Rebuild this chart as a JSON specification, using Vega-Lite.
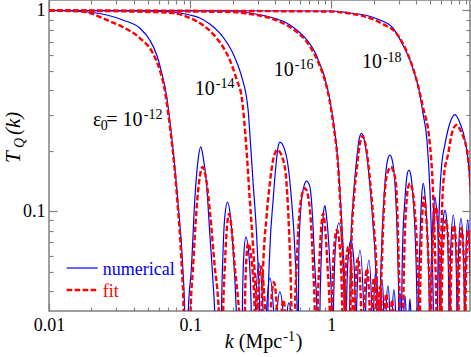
{
"$schema":"https://vega.github.io/schema/vega-lite/v6.json",
"width":421,"height":311,
"autosize":{"type":"none"},
"padding":{"left":49,"top":0,"right":1,"bottom":46},
"background":"white",
"config":{"view":{"stroke":"#808080","strokeWidth":1.5},
 "axis":{"grid":false,"domain":false,"tickColor":"#808080","tickWidth":1.2,"labelFont":"Liberation Serif","labelFontSize":18,"labelColor":"#000","labelFlush":false,"labelOverlap":false}},
"datasets":{
"num":[
{"c":"12","k":0.01,"T":1.0},{"c":"12","k":0.01472,"T":0.994},{"c":"12","k":0.02564,"T":0.95},{"c":"12","k":0.03329,"T":0.897},{"c":"12","k":0.04393,"T":0.818},{"c":"12","k":0.05172,"T":0.713},{"c":"12","k":0.05799,"T":0.6},{"c":"12","k":0.0629,"T":0.488},{"c":"12","k":0.06825,"T":0.371},{"c":"12","k":0.07167,"T":0.285},{"c":"12","k":0.08168,"T":0.1136},{"c":"12","k":0.08863,"T":0.0527},{"c":"12","k":0.09157,"T":0.03},{"c":"12","k":0.09232,"T":0.01},
{"c":"12","k":0.09538,"T":0.01},{"c":"12","k":0.09664,"T":0.03},{"c":"12","k":0.10214,"T":0.0528},{"c":"12","k":0.1078,"T":0.1136},{"c":"12","k":0.11378,"T":0.18},{"c":"12","k":0.1189,"T":0.209},{"c":"12","k":0.12344,"T":0.187},{"c":"12","k":0.13049,"T":0.138},{"c":"12","k":0.13771,"T":0.0775},{"c":"12","k":0.14533,"T":0.0437},{"c":"12","k":0.14943,"T":0.03},{"c":"12","k":0.15064,"T":0.01},
{"c":"12","k":0.16479,"T":0.01},{"c":"12","k":0.16668,"T":0.03},{"c":"12","k":0.17108,"T":0.064},{"c":"12","k":0.17591,"T":0.0938},{"c":"12","k":0.18382,"T":0.111},{"c":"12","k":0.19306,"T":0.0938},{"c":"12","k":0.20143,"T":0.064},{"c":"12","k":0.21051,"T":0.0361},{"c":"12","k":0.21247,"T":0.03},{"c":"12","k":0.21433,"T":0.01},
{"c":"12","k":0.23217,"T":0.01},{"c":"12","k":0.23406,"T":0.03},{"c":"12","k":0.23947,"T":0.059},{"c":"12","k":0.24783,"T":0.0743},{"c":"12","k":0.26157,"T":0.059},{"c":"12","k":0.27111,"T":0.03},{"c":"12","k":0.27333,"T":0.01},
{"c":"12","k":0.28706,"T":0.01},{"c":"12","k":0.28939,"T":0.03},{"c":"12","k":0.30643,"T":0.0551},{"c":"12","k":0.32977,"T":0.03},{"c":"12","k":0.33248,"T":0.01},
{"c":"12","k":0.34351,"T":0.01},{"c":"12","k":0.34628,"T":0.03},{"c":"12","k":0.36668,"T":0.0464},{"c":"12","k":0.39143,"T":0.03},{"c":"12","k":0.39462,"T":0.01},
{"c":"12","k":0.40767,"T":0.01},{"c":"12","k":0.41108,"T":0.03},{"c":"12","k":0.43169,"T":0.0396},{"c":"12","k":0.45707,"T":0.03},{"c":"12","k":0.46083,"T":0.01},
{"c":"12","k":0.47995,"T":0.01},{"c":"12","k":0.48397,"T":0.03},{"c":"12","k":0.50003,"T":0.0349},{"c":"12","k":0.52083,"T":0.03},{"c":"12","k":0.5251,"T":0.01},
{"c":"14","k":0.01,"T":1.0},{"c":"14","k":0.05172,"T":0.9942},{"c":"14","k":0.07775,"T":0.977},{"c":"14","k":0.09935,"T":0.95},{"c":"14","k":0.11697,"T":0.918},{"c":"14","k":0.13771,"T":0.856},{"c":"14","k":0.16212,"T":0.772},{"c":"14","k":0.18474,"T":0.681},{"c":"14","k":0.20045,"T":0.614},{"c":"14","k":0.2175,"T":0.535},{"c":"14","k":0.23217,"T":0.466},{"c":"14","k":0.25734,"T":0.319},{"c":"14","k":0.26455,"T":0.245},{"c":"14","k":0.27918,"T":0.138},{"c":"14","k":0.29513,"T":0.0778},{"c":"14","k":0.30296,"T":0.0527},{"c":"14","k":0.31146,"T":0.03},{"c":"14","k":0.31401,"T":0.01},
{"c":"14","k":0.35201,"T":0.01},{"c":"14","k":0.35491,"T":0.03},{"c":"14","k":0.36668,"T":0.064},{"c":"14","k":0.38696,"T":0.1136},{"c":"14","k":0.40441,"T":0.167},{"c":"14","k":0.41783,"T":0.205},{"c":"14","k":0.43169,"T":0.221},{"c":"14","k":0.46459,"T":0.205},{"c":"14","k":0.49436,"T":0.167},{"c":"14","k":0.5225,"T":0.1136},{"c":"14","k":0.55148,"T":0.064},{"c":"14","k":0.57344,"T":0.03},{"c":"14","k":0.57725,"T":0.01},
{"c":"14","k":0.5801,"T":0.01},{"c":"14","k":0.58381,"T":0.03},{"c":"14","k":0.58868,"T":0.064},{"c":"14","k":0.61515,"T":0.1136},{"c":"14","k":0.63873,"T":0.1324},{"c":"14","k":0.66751,"T":0.141},{"c":"14","k":0.70443,"T":0.1324},{"c":"14","k":0.73613,"T":0.0938},{"c":"14","k":0.76438,"T":0.0527},{"c":"14","k":0.78586,"T":0.0361},{"c":"14","k":0.7922,"T":0.03},{"c":"14","k":0.79749,"T":0.01},
{"c":"14","k":0.82257,"T":0.01},{"c":"14","k":0.82932,"T":0.03},{"c":"14","k":0.85262,"T":0.064},{"c":"14","k":0.87518,"T":0.0938},{"c":"14","k":0.8999,"T":0.1065},{"c":"14","k":0.92519,"T":0.0938},{"c":"14","k":0.96503,"T":0.064},{"c":"14","k":1.0038,"T":0.0361},{"c":"14","k":1.0121,"T":0.03},{"c":"14","k":1.01864,"T":0.01},
{"c":"14","k":1.02537,"T":0.01},{"c":"14","k":1.03377,"T":0.03},{"c":"14","k":1.07156,"T":0.068},{"c":"14","k":1.13092,"T":0.0873},{"c":"14","k":1.19338,"T":0.068},{"c":"14","k":1.23706,"T":0.03},{"c":"14","k":1.24729,"T":0.01},
{"c":"14","k":1.26775,"T":0.01},{"c":"14","k":1.27796,"T":0.03},{"c":"14","k":1.31637,"T":0.0589},{"c":"14","k":1.3756,"T":0.0718},{"c":"14","k":1.43745,"T":0.0589},{"c":"14","k":1.48033,"T":0.03},{"c":"14","k":1.49252,"T":0.01},
{"c":"14","k":1.50458,"T":0.03},{"c":"14","k":1.5932,"T":0.064},{"c":"14","k":1.70074,"T":0.03},{"c":"14","k":1.7146,"T":0.01},
{"c":"14","k":1.72878,"T":0.01},{"c":"14","k":1.7428,"T":0.03},{"c":"14","k":1.8454,"T":0.0571},{"c":"14","k":1.93795,"T":0.03},{"c":"14","k":1.95369,"T":0.01},
{"c":"14","k":1.96984,"T":0.01},{"c":"14","k":1.98597,"T":0.03},{"c":"14","k":2.06869,"T":0.0509},{"c":"14","k":2.15459,"T":0.03},{"c":"14","k":2.17262,"T":0.01},
{"c":"14","k":2.19025,"T":0.01},{"c":"14","k":2.20824,"T":0.03},{"c":"14","k":2.28155,"T":0.0459},{"c":"14","k":2.3573,"T":0.03},{"c":"14","k":2.37651,"T":0.01},
{"c":"14","k":2.41561,"T":0.01},{"c":"14","k":2.43547,"T":0.03},{"c":"14","k":2.51629,"T":0.0424},{"c":"14","k":2.59976,"T":0.03},{"c":"14","k":2.62108,"T":0.01},
{"c":"14","k":2.67282,"T":0.01},{"c":"14","k":2.69491,"T":0.03},{"c":"14","k":2.77524,"T":0.0405},{"c":"14","k":2.85792,"T":0.03},{"c":"14","k":2.88107,"T":0.01},
{"c":"14","k":2.96243,"T":0.01},{"c":"14","k":2.98639,"T":0.03},{"c":"14","k":3.0607,"T":0.0391},{"c":"14","k":3.13661,"T":0.03},{"c":"14","k":3.16232,"T":0.01},
{"c":"14","k":3.22996,"T":0.01},{"c":"14","k":3.25658,"T":0.03},{"c":"14","k":3.32117,"T":0.0378},{"c":"14","k":3.38636,"T":0.03},{"c":"14","k":3.41452,"T":0.01},
{"c":"14","k":3.51583,"T":0.01},{"c":"14","k":3.54521,"T":0.03},{"c":"14","k":3.60336,"T":0.0366},{"c":"14","k":3.66282,"T":0.03},{"c":"14","k":3.69272,"T":0.01},
{"c":"16","k":0.01,"T":1.0},{"c":"16","k":0.19087,"T":0.9942},{"c":"16","k":0.26455,"T":0.9716},{"c":"16","k":0.36668,"T":0.928},{"c":"16","k":0.46843,"T":0.876},{"c":"16","k":0.56978,"T":0.7993},{"c":"16","k":0.6708,"T":0.713},{"c":"16","k":0.76438,"T":0.621},{"c":"16","k":0.82932,"T":0.5414},{"c":"16","k":0.8999,"T":0.461},{"c":"16","k":0.97636,"T":0.358},{"c":"16","k":1.04227,"T":0.269},{"c":"16","k":1.11257,"T":0.18},{"c":"16","k":1.18763,"T":0.0853},{"c":"16","k":1.23706,"T":0.048},{"c":"16","k":1.27796,"T":0.03},{"c":"16","k":1.28866,"T":0.01},
{"c":"16","k":1.33798,"T":0.01},{"c":"16","k":1.34672,"T":0.03},{"c":"16","k":1.35327,"T":0.039},{"c":"16","k":1.3756,"T":0.0692},{"c":"16","k":1.4281,"T":0.1136},{"c":"16","k":1.50971,"T":0.18},{"c":"16","k":1.5725,"T":0.228},{"c":"16","k":1.63799,"T":0.2443},{"c":"16","k":1.70632,"T":0.228},{"c":"16","k":1.77737,"T":0.1942},{"c":"16","k":1.89708,"T":0.1227},{"c":"16","k":1.97938,"T":0.0836},{"c":"16","k":2.06869,"T":0.0471},{"c":"16","k":2.0957,"T":0.03},{"c":"16","k":2.10939,"T":0.01},
{"c":"16","k":2.1938,"T":0.01},{"c":"16","k":2.20824,"T":0.03},{"c":"16","k":2.27029,"T":0.064},{"c":"16","k":2.39622,"T":0.1376},{"c":"16","k":2.49575,"T":0.178},{"c":"16","k":2.59976,"T":0.19},{"c":"16","k":2.70791,"T":0.178},{"c":"16","k":2.82098,"T":0.1376},{"c":"16","k":2.94787,"T":0.064},{"c":"16","k":3.0113,"T":0.03},{"c":"16","k":3.0308,"T":0.01},
{"c":"16","k":3.1262,"T":0.01},{"c":"16","k":3.14671,"T":0.03},{"c":"16","k":3.20364,"T":0.07},{"c":"16","k":3.32117,"T":0.1136},{"c":"16","k":3.43136,"T":0.15},{"c":"16","k":3.54521,"T":0.16},{"c":"16","k":3.66282,"T":0.15},{"c":"16","k":3.80263,"T":0.1136},{"c":"16","k":3.94172,"T":0.07},{"c":"16","k":4.05234,"T":0.03},{"c":"16","k":4.07937,"T":0.01},
{"c":"16","k":4.11288,"T":0.01},{"c":"16","k":4.13918,"T":0.03},{"c":"16","k":4.24224,"T":0.07},{"c":"16","k":4.35466,"T":0.115},{"c":"16","k":4.47684,"T":0.1376},{"c":"16","k":4.6181,"T":0.118},{"c":"16","k":4.81028,"T":0.07},{"c":"16","k":4.95367,"T":0.03},{"c":"16","k":4.98633,"T":0.01},
{"c":"16","k":5.01069,"T":0.01},{"c":"16","k":5.04357,"T":0.03},{"c":"16","k":5.16021,"T":0.07},{"c":"16","k":5.28807,"T":0.1},{"c":"16","k":5.41941,"T":0.118},{"c":"16","k":5.57174,"T":0.1},{"c":"16","k":5.71952,"T":0.07},{"c":"16","k":5.86092,"T":0.03},{"c":"16","k":5.88948,"T":0.01},
{"c":"16","k":5.92811,"T":0.03},{"c":"16","k":6.05511,"T":0.065},{"c":"16","k":6.20504,"T":0.09},{"c":"16","k":6.38027,"T":0.1013},{"c":"16","k":6.5696,"T":0.09},{"c":"16","k":6.70013,"T":0.065},{"c":"16","k":6.81058,"T":0.03},{"c":"16","k":6.83714,"T":0.01},
{"c":"16","k":6.866,"T":0.03},{"c":"16","k":7.01308,"T":0.065},{"c":"16","k":7.3052,"T":0.0957},{"c":"16","k":7.60977,"T":0.065},{"c":"16","k":7.76069,"T":0.03},{"c":"16","k":7.79252,"T":0.01},
{"c":"16","k":7.82369,"T":0.03},{"c":"16","k":7.97806,"T":0.065},{"c":"16","k":8.2842,"T":0.0921},{"c":"16","k":8.60041,"T":0.065},{"c":"16","k":8.77074,"T":0.03},{"c":"16","k":8.8066,"T":0.01},
{"c":"16","k":8.84327,"T":0.03},{"c":"16","k":9.00301,"T":0.065},{"c":"16","k":9.24098,"T":0.0903},{"c":"16","k":9.51644,"T":0.065},{"c":"16","k":9.7531,"T":0.03},{"c":"16","k":9.80001,"T":0.01},
{"c":"18","k":0.01,"T":1.0},{"c":"18","k":0.97636,"T":0.9942},{"c":"18","k":1.35327,"T":0.9716},{"c":"18","k":1.78614,"T":0.944},{"c":"18","k":2.20824,"T":0.897},{"c":"18","k":2.7303,"T":0.818},{"c":"18","k":3.21435,"T":0.673},{"c":"18","k":3.60336,"T":0.5666},{"c":"18","k":3.91001,"T":0.477},{"c":"18","k":4.17374,"T":0.402},{"c":"18","k":4.4552,"T":0.308},{"c":"18","k":4.75598,"T":0.226},{"c":"18","k":4.99439,"T":0.1274},{"c":"18","k":5.16021,"T":0.064},{"c":"18","k":5.28807,"T":0.03},{"c":"18","k":5.33146,"T":0.01},
{"c":"18","k":5.59918,"T":0.01},{"c":"18","k":5.64465,"T":0.03},{"c":"18","k":5.785,"T":0.09},{"c":"18","k":6.02571,"T":0.165},{"c":"18","k":6.38027,"T":0.215},{"c":"18","k":6.92239,"T":0.275},{"c":"18","k":7.51148,"T":0.303},{"c":"18","k":8.14973,"T":0.275},{"c":"18","k":8.84327,"T":0.226},{"c":"18","k":9.59468,"T":0.14},{"c":"18","k":10.0764,"T":0.05},{"c":"18","k":10.582,"T":0.01}
],
"fit":[
{"c":"12","k":0.01,"T":1.0},{"c":"12","k":0.01472,"T":0.994},{"c":"12","k":0.01943,"T":0.9716},{"c":"12","k":0.02564,"T":0.897},{"c":"12","k":0.03329,"T":0.8274},{"c":"12","k":0.04393,"T":0.7293},{"c":"12","k":0.0543,"T":0.614},{"c":"12","k":0.06089,"T":0.505},{"c":"12","k":0.06607,"T":0.402},{"c":"12","k":0.06938,"T":0.319},{"c":"12","k":0.08102,"T":0.1136},{"c":"12","k":0.08719,"T":0.0527},{"c":"12","k":0.09009,"T":0.03},{"c":"12","k":0.09082,"T":0.01},
{"c":"12","k":0.09935,"T":0.01},{"c":"12","k":0.10049,"T":0.03},{"c":"12","k":0.10484,"T":0.0527},{"c":"12","k":0.11084,"T":0.1013},{"c":"12","k":0.11697,"T":0.1485},{"c":"12","k":0.12222,"T":0.166},{"c":"12","k":0.129,"T":0.1485},{"c":"12","k":0.13771,"T":0.1013},{"c":"12","k":0.14943,"T":0.0527},{"c":"12","k":0.15771,"T":0.0361},{"c":"12","k":0.16002,"T":0.03},{"c":"12","k":0.16134,"T":0.01},
{"c":"12","k":0.16969,"T":0.01},{"c":"12","k":0.17108,"T":0.03},{"c":"12","k":0.17591,"T":0.0527},{"c":"12","k":0.18086,"T":0.0775},{"c":"12","k":0.18871,"T":0.0968},{"c":"12","k":0.19816,"T":0.0775},{"c":"12","k":0.20711,"T":0.0527},{"c":"12","k":0.21858,"T":0.0361},{"c":"12","k":0.22288,"T":0.03},{"c":"12","k":0.22471,"T":0.01},
{"c":"12","k":0.24183,"T":0.01},{"c":"12","k":0.24383,"T":0.03},{"c":"12","k":0.24943,"T":0.0554},{"c":"12","k":0.25734,"T":0.0693},{"c":"12","k":0.27333,"T":0.0554},{"c":"12","k":0.28706,"T":0.03},{"c":"12","k":0.28939,"T":0.01},
{"c":"12","k":0.29659,"T":0.01},{"c":"12","k":0.29899,"T":0.03},{"c":"12","k":0.3166,"T":0.053},{"c":"12","k":0.34071,"T":0.03},{"c":"12","k":0.34351,"T":0.01},
{"c":"12","k":0.36668,"T":0.01},{"c":"12","k":0.36969,"T":0.03},{"c":"12","k":0.39143,"T":0.0442},{"c":"12","k":0.41442,"T":0.03},{"c":"12","k":0.41783,"T":0.01},
{"c":"12","k":0.43881,"T":0.01},{"c":"12","k":0.4424,"T":0.03},{"c":"12","k":0.45707,"T":0.0361},{"c":"12","k":0.47223,"T":0.03},{"c":"12","k":0.47612,"T":0.01},
{"c":"14","k":0.01,"T":1.0},{"c":"14","k":0.05172,"T":0.983},{"c":"14","k":0.07524,"T":0.9716},{"c":"14","k":0.09935,"T":0.918},{"c":"14","k":0.12284,"T":0.8467},{"c":"14","k":0.14943,"T":0.7462},{"c":"14","k":0.17591,"T":0.636},{"c":"14","k":0.19087,"T":0.5666},{"c":"14","k":0.21398,"T":0.45},{"c":"14","k":0.23217,"T":0.3664},{"c":"14","k":0.25069,"T":0.202},{"c":"14","k":0.26455,"T":0.1136},{"c":"14","k":0.27918,"T":0.0665},{"c":"14","k":0.29034,"T":0.042},{"c":"14","k":0.29899,"T":0.03},{"c":"14","k":0.30145,"T":0.01},
{"c":"14","k":0.31763,"T":0.01},{"c":"14","k":0.32021,"T":0.03},{"c":"14","k":0.32868,"T":0.0527},{"c":"14","k":0.34747,"T":0.0938},{"c":"14","k":0.36668,"T":0.1376},{"c":"14","k":0.38696,"T":0.18},{"c":"14","k":0.4131,"T":0.202},{"c":"14","k":0.45556,"T":0.18},{"c":"14","k":0.4816,"T":0.1376},{"c":"14","k":0.50248,"T":0.0775},{"c":"14","k":0.5166,"T":0.0437},{"c":"14","k":0.52164,"T":0.03},{"c":"14","k":0.5251,"T":0.01},
{"c":"14","k":0.54782,"T":0.01},{"c":"14","k":0.55148,"T":0.03},{"c":"14","k":0.56699,"T":0.0527},{"c":"14","k":0.59157,"T":0.0938},{"c":"14","k":0.61515,"T":0.118},{"c":"14","k":0.64926,"T":0.13},{"c":"14","k":0.68522,"T":0.118},{"c":"14","k":0.71258,"T":0.0938},{"c":"14","k":0.74339,"T":0.0527},{"c":"14","k":0.76438,"T":0.03},{"c":"14","k":0.76931,"T":0.01},
{"c":"14","k":0.79361,"T":0.01},{"c":"14","k":0.79875,"T":0.03},{"c":"14","k":0.81996,"T":0.0527},{"c":"14","k":0.843,"T":0.0775},{"c":"14","k":0.87518,"T":0.0975},{"c":"14","k":0.91018,"T":0.0775},{"c":"14","k":0.94036,"T":0.0527},{"c":"14","k":0.97636,"T":0.03},{"c":"14","k":0.98271,"T":0.01},
{"c":"14","k":1.00058,"T":0.01},{"c":"14","k":1.00878,"T":0.03},{"c":"14","k":1.04227,"T":0.0628},{"c":"14","k":1.0946,"T":0.0805},{"c":"14","k":1.1551,"T":0.0628},{"c":"14","k":1.19729,"T":0.03},{"c":"14","k":1.20717,"T":0.01},
{"c":"14","k":1.22706,"T":0.01},{"c":"14","k":1.23706,"T":0.03},{"c":"14","k":1.26982,"T":0.0544},{"c":"14","k":1.3204,"T":0.0663},{"c":"14","k":1.38006,"T":0.0544},{"c":"14","k":1.42121,"T":0.03},{"c":"14","k":1.43284,"T":0.01},
{"c":"14","k":1.44462,"T":0.01},{"c":"14","k":1.45639,"T":0.03},{"c":"14","k":1.54205,"T":0.0582},{"c":"14","k":1.63271,"T":0.03},{"c":"14","k":1.6461,"T":0.01},
{"c":"14","k":1.68688,"T":0.01},{"c":"14","k":1.70074,"T":0.03},{"c":"14","k":1.78614,"T":0.0519},{"c":"14","k":1.87568,"T":0.03},{"c":"14","k":1.89106,"T":0.01},
{"c":"14","k":1.9222,"T":0.01},{"c":"14","k":1.93795,"T":0.03},{"c":"14","k":2.00229,"T":0.0464},{"c":"14","k":2.08537,"T":0.03},{"c":"14","k":2.10283,"T":0.01},
{"c":"14","k":2.13734,"T":0.01},{"c":"14","k":2.15459,"T":0.03},{"c":"14","k":2.21905,"T":0.0419},{"c":"14","k":2.28155,"T":0.03},{"c":"14","k":2.3001,"T":0.01},
{"c":"14","k":2.36878,"T":0.01},{"c":"14","k":2.38843,"T":0.03},{"c":"14","k":2.44719,"T":0.0387},{"c":"14","k":2.50812,"T":0.03},{"c":"14","k":2.52888,"T":0.01},
{"c":"14","k":2.62108,"T":0.01},{"c":"14","k":2.64267,"T":0.03},{"c":"14","k":2.69491,"T":0.0361},{"c":"14","k":2.74795,"T":0.03},{"c":"14","k":2.77057,"T":0.01},
{"c":"16","k":0.01,"T":1.0},{"c":"16","k":0.19087,"T":0.983},{"c":"16","k":0.26455,"T":0.9605},{"c":"16","k":0.36668,"T":0.918},{"c":"16","k":0.46843,"T":0.856},{"c":"16","k":0.56978,"T":0.781},{"c":"16","k":0.6708,"T":0.697},{"c":"16","k":0.76438,"T":0.6},{"c":"16","k":0.82932,"T":0.529},{"c":"16","k":0.8999,"T":0.45},{"c":"16","k":0.97636,"T":0.35},{"c":"16","k":1.04227,"T":0.2597},{"c":"16","k":1.11257,"T":0.1738},{"c":"16","k":1.17796,"T":0.0853},{"c":"16","k":1.22706,"T":0.0464},{"c":"16","k":1.26775,"T":0.03},{"c":"16","k":1.27796,"T":0.01},
{"c":"16","k":1.35771,"T":0.01},{"c":"16","k":1.36654,"T":0.03},{"c":"16","k":1.38914,"T":0.0692},{"c":"16","k":1.44215,"T":0.1136},{"c":"16","k":1.5247,"T":0.17},{"c":"16","k":1.58806,"T":0.215},{"c":"16","k":1.66489,"T":0.237},{"c":"16","k":1.73436,"T":0.22},{"c":"16","k":1.80365,"T":0.186},{"c":"16","k":1.91582,"T":0.1227},{"c":"16","k":2.00229,"T":0.0836},{"c":"16","k":2.09253,"T":0.0471},{"c":"16","k":2.12349,"T":0.03},{"c":"16","k":2.13734,"T":0.01},
{"c":"16","k":2.21905,"T":0.01},{"c":"16","k":2.23362,"T":0.03},{"c":"16","k":2.29637,"T":0.064},{"c":"16","k":2.42356,"T":0.1376},{"c":"16","k":2.53665,"T":0.16},{"c":"16","k":2.64267,"T":0.166},{"c":"16","k":2.75264,"T":0.158},{"c":"16","k":2.86728,"T":0.1376},{"c":"16","k":2.98639,"T":0.064},{"c":"16","k":3.05082,"T":0.03},{"c":"16","k":3.07071,"T":0.01},
{"c":"16","k":3.20915,"T":0.01},{"c":"16","k":3.22996,"T":0.03},{"c":"16","k":3.29391,"T":0.065},{"c":"16","k":3.3919,"T":0.105},{"c":"16","k":3.48767,"T":0.13},{"c":"16","k":3.60336,"T":0.1376},{"c":"16","k":3.73524,"T":0.13},{"c":"16","k":3.87794,"T":0.105},{"c":"16","k":4.03973,"T":0.065},{"c":"16","k":4.16008,"T":0.03},{"c":"16","k":4.1871,"T":0.01},
{"c":"16","k":4.21449,"T":0.01},{"c":"16","k":4.24224,"T":0.03},{"c":"16","k":4.32624,"T":0.065},{"c":"16","k":4.41867,"T":0.1},{"c":"16","k":4.52859,"T":0.1176},{"c":"16","k":4.66349,"T":0.1},{"c":"16","k":4.83403,"T":0.065},{"c":"16","k":5.01069,"T":0.03},{"c":"16","k":5.03534,"T":0.01},
{"c":"16","k":5.05982,"T":0.01},{"c":"16","k":5.09316,"T":0.03},{"c":"16","k":5.21069,"T":0.065},{"c":"16","k":5.34899,"T":0.092},{"c":"16","k":5.50836,"T":0.1049},{"c":"16","k":5.67266,"T":0.092},{"c":"16","k":5.82242,"T":0.065},{"c":"16","k":5.95691,"T":0.03},{"c":"16","k":5.98577,"T":0.01},
{"c":"16","k":6.03573,"T":0.03},{"c":"16","k":6.1648,"T":0.062},{"c":"16","k":6.48503,"T":0.0903},{"c":"16","k":6.78823,"T":0.062},{"c":"16","k":6.92239,"T":0.03},{"c":"16","k":6.95069,"T":0.01},
{"c":"16","k":6.97915,"T":0.03},{"c":"16","k":7.12868,"T":0.06},{"c":"16","k":7.38965,"T":0.0853},{"c":"16","k":7.70946,"T":0.06},{"c":"16","k":7.88806,"T":0.03},{"c":"16","k":7.92001,"T":0.01},
{"c":"16","k":7.95183,"T":0.03},{"c":"16","k":8.09643,"T":0.058},{"c":"16","k":8.35184,"T":0.0824},{"c":"16","k":8.67131,"T":0.058},{"c":"16","k":8.84327,"T":0.03},{"c":"16","k":8.87832,"T":0.01},
{"c":"16","k":8.91492,"T":0.03},{"c":"16","k":9.06087,"T":0.058},{"c":"16","k":9.28662,"T":0.0805},{"c":"16","k":9.626,"T":0.058},{"c":"16","k":9.83263,"T":0.03},{"c":"16","k":9.8806,"T":0.01},
{"c":"18","k":0.01,"T":1.0},{"c":"18","k":0.97636,"T":0.9885},{"c":"18","k":1.35327,"T":0.966},{"c":"18","k":1.78614,"T":0.928},{"c":"18","k":2.3191,"T":0.856},{"c":"18","k":2.91457,"T":0.7637},{"c":"18","k":3.43136,"T":0.621},{"c":"18","k":3.78425,"T":0.517},{"c":"18","k":4.10603,"T":0.4253},{"c":"18","k":4.4552,"T":0.33},{"c":"18","k":4.95367,"T":0.226},{"c":"18","k":5.24511,"T":0.1274},{"c":"18","k":5.41941,"T":0.064},{"c":"18","k":5.55274,"T":0.03},{"c":"18","k":5.59918,"T":0.01},
{"c":"18","k":5.83199,"T":0.01},{"c":"18","k":5.87989,"T":0.03},{"c":"18","k":6.02571,"T":0.08},{"c":"18","k":6.27679,"T":0.15},{"c":"18","k":6.73364,"T":0.194},{"c":"18","k":7.15221,"T":0.245},{"c":"18","k":7.72262,"T":0.269},{"c":"18","k":8.2842,"T":0.25},{"c":"18","k":8.60041,"T":0.235},{"c":"18","k":9.33294,"T":0.18},{"c":"18","k":9.7531,"T":0.12},{"c":"18","k":10.2424,"T":0.05},{"c":"18","k":10.7566,"T":0.01}
],
"lab20":[
{"t":"10","k":0.1078,"T":0.3793},{"t":"10","k":0.39143,"T":0.4718},{"t":"10","k":1.6461,"T":0.514},
{"t":"ε","k":0.0205,"T":0.2657},{"t":"= 10","k":0.02543,"T":0.2657},
{"t":"(Mpc","k":0.22109,"T":0.0208},{"t":")","k":0.56053,"T":0.0208}
],
"lab14":[
{"t":"-14","k":0.15188,"T":0.4109},{"t":"-16","k":0.55148,"T":0.511},{"t":"-18","k":2.3191,"T":0.5569},
{"t":"-12","k":0.0469,"T":0.2879},{"t":"0","k":0.02325,"T":0.2537},{"t":"-1","k":0.45707,"T":0.02254}
]
},
"layer":[
{"data":{"name":"num"},
 "mark":{"type":"line","color":"#0000ff","strokeWidth":1.2,"interpolate":"monotone","clip":true},
 "encoding":{
  "x":{"field":"k","type":"quantitative","scale":{"type":"log","domain":[0.01,9.6],"nice":false},
       "axis":{"orient":"bottom","values":[0.01,0.1,1],"format":"~g","tickSize":-8,"labelPadding":13,"title":null}},
  "y":{"field":"T","type":"quantitative","scale":{"type":"log","domain":[0.0318,1.128],"nice":false},
       "axis":{"orient":"left","values":[0.1,1],"format":"~g","tickSize":-8,"labelPadding":12,"title":null}},
  "detail":{"field":"c"}}},
{"data":{"name":"fit"},
 "mark":{"type":"line","color":"#ff0000","strokeWidth":2.4,"strokeDash":[5.5,2.5],"interpolate":"monotone","clip":true},
 "encoding":{
  "x":{"field":"k","type":"quantitative","scale":{"type":"log","domain":[0.01,9.6],"nice":false},
       "axis":{"orient":"bottom","values":[0.02,0.03,0.04,0.05,0.06,0.07,0.08,0.09,0.2,0.3,0.4,0.5,0.6,0.7,0.8,0.9,2,3,4,5,6,7,8,9],"labels":false,"tickSize":-4,"title":null}},
  "y":{"field":"T","type":"quantitative","scale":{"type":"log","domain":[0.0318,1.128],"nice":false},
       "axis":{"orient":"left","values":[0.04,0.05,0.06,0.07,0.08,0.09,0.2,0.3,0.4,0.5,0.6,0.7,0.8,0.9],"labels":false,"tickSize":-4,"title":null}},
  "detail":{"field":"c"}}},
{"data":{"name":"lab20"},
 "mark":{"type":"text","font":"Liberation Serif","fontSize":20,"align":"left","baseline":"alphabetic","color":"#000"},
 "encoding":{
  "x":{"field":"k","type":"quantitative","scale":{"type":"log","domain":[0.01,9.6],"nice":false},
       "axis":{"orient":"top","values":[0.01,0.1,1],"labels":false,"tickSize":-8,"title":null}},
  "y":{"field":"T","type":"quantitative","scale":{"type":"log","domain":[0.0318,1.128],"nice":false},
       "axis":{"orient":"right","values":[0.1,1],"labels":false,"tickSize":-8,"title":null}},
  "text":{"field":"t"}}},
{"data":{"name":"lab14"},
 "mark":{"type":"text","font":"Liberation Serif","fontSize":14,"align":"left","baseline":"alphabetic","color":"#000"},
 "encoding":{
  "x":{"field":"k","type":"quantitative","scale":{"type":"log","domain":[0.01,9.6],"nice":false},
       "axis":{"orient":"top","values":[0.02,0.03,0.04,0.05,0.06,0.07,0.08,0.09,0.2,0.3,0.4,0.5,0.6,0.7,0.8,0.9,2,3,4,5,6,7,8,9],"labels":false,"tickSize":-4,"title":null}},
  "y":{"field":"T","type":"quantitative","scale":{"type":"log","domain":[0.0318,1.128],"nice":false},
       "axis":{"orient":"right","values":[0.04,0.05,0.06,0.07,0.08,0.09,0.2,0.3,0.4,0.5,0.6,0.7,0.8,0.9],"labels":false,"tickSize":-4,"title":null}},
  "text":{"field":"t"}}},
{"data":{"values":[{"t":"k","k":0.17591,"T":0.0208}]},
 "mark":{"type":"text","font":"Liberation Serif","fontSize":20,"fontStyle":"italic","align":"left","baseline":"alphabetic","color":"#000"},
 "encoding":{
  "x":{"field":"k","type":"quantitative","scale":{"type":"log","domain":[0.01,9.6],"nice":false},"axis":null},
  "y":{"field":"T","type":"quantitative","scale":{"type":"log","domain":[0.0318,1.128],"nice":false},"axis":null},
  "text":{"field":"t"}}},
{"data":{"values":[{"t":"T","k":0.006197,"T":0.1738},{"t":"(k)","k":0.006197,"T":0.2396}]},
 "mark":{"type":"text","font":"Liberation Serif","fontSize":21,"fontStyle":"italic","angle":270,"align":"left","baseline":"alphabetic","color":"#000"},
 "encoding":{
  "x":{"field":"k","type":"quantitative","scale":{"type":"log","domain":[0.01,9.6],"nice":false},"axis":null},
  "y":{"field":"T","type":"quantitative","scale":{"type":"log","domain":[0.0318,1.128],"nice":false},"axis":null},
  "text":{"field":"t"}}},
{"data":{"values":[{"t":"Q","k":0.006615,"T":0.2064}]},
 "mark":{"type":"text","font":"Liberation Serif","fontSize":14,"fontStyle":"italic","angle":270,"align":"left","baseline":"alphabetic","color":"#000"},
 "encoding":{
  "x":{"field":"k","type":"quantitative","scale":{"type":"log","domain":[0.01,9.6],"nice":false},"axis":null},
  "y":{"field":"T","type":"quantitative","scale":{"type":"log","domain":[0.0318,1.128],"nice":false},"axis":null},
  "text":{"field":"t"}}},
{"data":{"values":[{"k1":0.01335,"k2":0.02214,"T":0.05207}]},
 "mark":{"type":"rule","color":"#0000ff","strokeWidth":1.2},
 "encoding":{
  "x":{"field":"k1","type":"quantitative","scale":{"type":"log","domain":[0.01,9.6],"nice":false},"axis":null},
  "x2":{"field":"k2"},
  "y":{"field":"T","type":"quantitative","scale":{"type":"log","domain":[0.0318,1.128],"nice":false},"axis":null}}},
{"data":{"values":[{"k1":0.01335,"k2":0.02214,"T":0.0405}]},
 "mark":{"type":"rule","color":"#ff0000","strokeWidth":2.4,"strokeDash":[5.5,2.5]},
 "encoding":{
  "x":{"field":"k1","type":"quantitative","scale":{"type":"log","domain":[0.01,9.6],"nice":false},"axis":null},
  "x2":{"field":"k2"},
  "y":{"field":"T","type":"quantitative","scale":{"type":"log","domain":[0.0318,1.128],"nice":false},"axis":null}}},
{"data":{"values":[{"t":"numerical","k":0.02403,"T":0.0478}]},
 "mark":{"type":"text","font":"Liberation Serif","fontSize":18,"align":"left","baseline":"alphabetic","color":"#0000ff"},
 "encoding":{
  "x":{"field":"k","type":"quantitative","scale":{"type":"log","domain":[0.01,9.6],"nice":false},"axis":null},
  "y":{"field":"T","type":"quantitative","scale":{"type":"log","domain":[0.0318,1.128],"nice":false},"axis":null},
  "text":{"field":"t"}}},
{"data":{"values":[{"t":"fit","k":0.02403,"T":0.0372}]},
 "mark":{"type":"text","font":"Liberation Serif","fontSize":18,"align":"left","baseline":"alphabetic","color":"#ff0000"},
 "encoding":{
  "x":{"field":"k","type":"quantitative","scale":{"type":"log","domain":[0.01,9.6],"nice":false},"axis":null},
  "y":{"field":"T","type":"quantitative","scale":{"type":"log","domain":[0.0318,1.128],"nice":false},"axis":null},
  "text":{"field":"t"}}}
],
"resolve":{"axis":{"x":"independent","y":"independent"}}
}
